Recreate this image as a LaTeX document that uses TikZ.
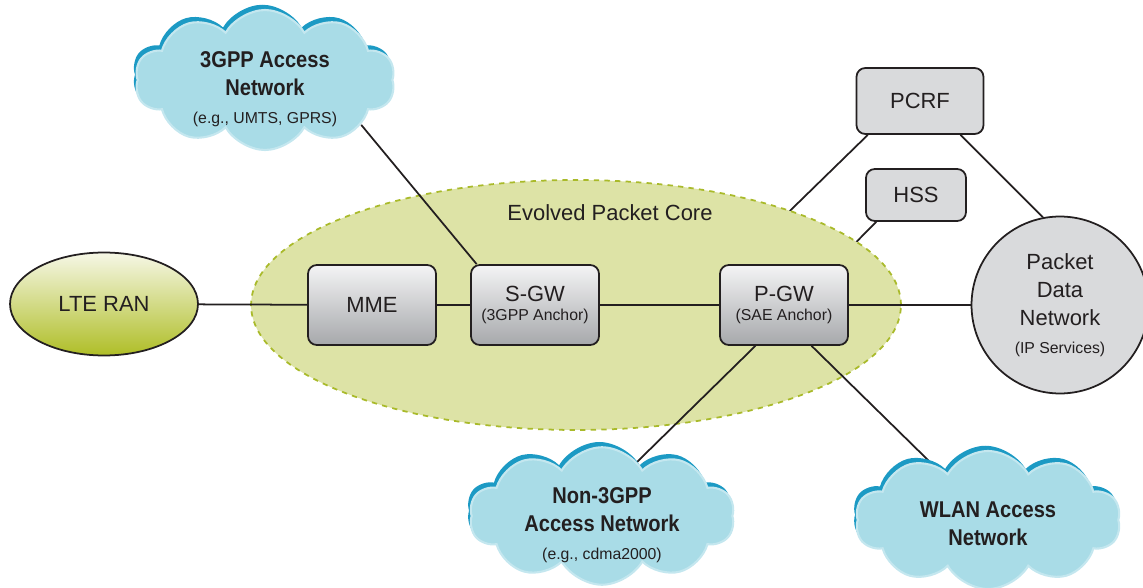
\documentclass[tikz,border=0pt]{standalone}
\usepackage{fontspec}
\setmainfont{Liberation Sans}
\newfontfamily\condfont[FakeStretch=0.88]{Liberation Sans}
\usetikzlibrary{shapes.symbols,shapes.geometric,shadows}
\definecolor{ink}{HTML}{231F20}
\definecolor{cloudfill}{HTML}{A9DCE7}
\definecolor{cloudrim}{HTML}{C4E7EF}
\definecolor{cloudedge}{HTML}{1C9AC4}
\definecolor{epcfill}{HTML}{DDE3A6}
\definecolor{epcline}{HTML}{A9BA2A}
\definecolor{ltetop}{HTML}{F6F7E6}
\definecolor{ltemid}{HTML}{C8D264}
\definecolor{ltebot}{HTML}{AFBE27}
\definecolor{boxtop}{HTML}{F4F4F5}
\definecolor{boxbot}{HTML}{A6A8AB}
\definecolor{plaingrey}{HTML}{D9DADC}
\pgfdeclarelayer{under}
\pgfdeclarelayer{epc}
\pgfdeclarelayer{wires}
\pgfsetlayers{under,epc,wires,main}
\newcommand{\subtxt}[1]{{\normalfont\fontsize{9}{16}\selectfont #1}}
\tikzset{
  plaintxt/.style={text=ink, align=center, font=\fontsize{12.5}{16}\selectfont},
  gwbox/.style={plaintxt, draw=ink, line width=1pt, rounded corners=5pt,
    top color=boxtop, bottom color=boxbot, minimum width=2.56cm, minimum height=1.6cm,
    font=\fontsize{12.5}{14}\selectfont},
  greybox/.style={plaintxt, draw=ink, line width=1pt, rounded corners=5pt, fill=plaingrey},
  netcloud/.style={cloud, cloud puffs=10, cloud puff arc=120, cloud ignores aspect,
    fill=cloudfill, draw=cloudrim, line width=1.2pt, inner sep=0pt,
    general shadow={fill=cloudedge, shadow yshift=3pt, shadow xshift=-1.5pt}},
  cloudtxt/.style={text=ink, align=center, font=\condfont\bfseries\fontsize{13}{16}\selectfont},
  link/.style={draw=ink, line width=1pt}
}
\begin{document}
\begin{tikzpicture}[x=0.02cm, y=-0.02cm]
        \useasboundingbox (0,0) rectangle (1143,588);
        % core area
        \begin{pgfonlayer}{epc}
        \node[ellipse, fill=epcfill, draw=epcline, dashed, line width=1pt,
          minimum width=13cm, minimum height=5cm] (epc) at (576,305) {};
        \end{pgfonlayer}
        \node[plaintxt] (epctxt) at (610,213) {Evolved Packet Core};

        % access side
        \node[ellipse, draw=ink, line width=1pt, top color=ltetop, middle color=ltemid,
          bottom color=ltebot, minimum width=3.76cm, minimum height=2.06cm,
          plaintxt] (lte) at (104,304) {LTE RAN};
        \node[gwbox] (mme) at (372,305) {MME};
        \node[gwbox] (sgw) at (535,305) {S-GW\\[-3pt]\subtxt{(3GPP Anchor)}};
        \node[gwbox] (pgw) at (784,305) {P-GW\\[-3pt]\subtxt{(SAE Anchor)}};

        % policy and subscriber data
        \node[greybox, minimum width=2.54cm, minimum height=1.32cm] (pcrf) at (920,101) {PCRF};
        \node[greybox, minimum width=2.0cm, minimum height=1.04cm] (hss) at (916,195) {HSS};
        \node[greybox, circle, minimum size=3.54cm] (pdn) at (1060,305)
          {Packet\\Data\\Network\\\subtxt{(IP Services)}};

        % clouds
        \node[netcloud, minimum width=5.2cm, minimum height=2.8cm] (tgpp) at (265,80) {};
        \node[cloudtxt] (tgpptxt) at (265,89) {3GPP Access\\Network\\\subtxt{(e.g., UMTS, GPRS)}};
        \node[netcloud, minimum width=5.3cm, minimum height=2.75cm] (ntgpp) at (602,516) {};
        \node[cloudtxt] (ntgpptxt) at (602,525) {Non-3GPP\\Access Network\\\subtxt{(e.g., cdma2000)}};
        \node[netcloud, minimum width=5.3cm, minimum height=2.76cm] (wlan) at (988,520) {};
        \node[cloudtxt] (wlantxt) at (988,524) {WLAN Access\\Network};

        % links behind the core
        \begin{pgfonlayer}{under}
        \draw[link] (pcrf.213) -- (pgw.140);
        \draw[link] (hss.214) -- (pgw.39);
        \end{pgfonlayer}

        % links
        \begin{pgfonlayer}{wires}
        \draw[link] (lte) -- (mme);
        \draw[link] (mme) -- (sgw);
        \draw[link] (sgw) -- (pgw);
        \draw[link] (pgw) -- (pdn);
        \draw[link] (tgpp.-25) -- (sgw.145);
        \draw[link] (pcrf.-40) -- (pdn.101);
        \draw[link] (pgw.-125) -- (ntgpp.57);
        \draw[link] (pgw.-56) -- (wlan.135);
        \end{pgfonlayer}
\end{tikzpicture}
\end{document}
